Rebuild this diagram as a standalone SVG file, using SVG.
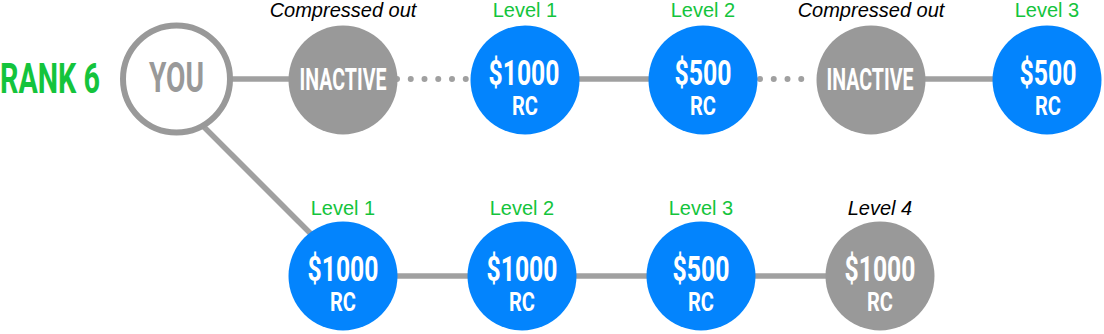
<svg xmlns="http://www.w3.org/2000/svg" width="1104" height="334" viewBox="0 0 1104 334">
<style>
.lbl{font-family:"Liberation Sans",Arial,sans-serif;font-size:20px;text-anchor:middle}
.g{fill:#14c43c}
.k{fill:#000;font-style:italic}
.big{font-family:Roboto,"Liberation Sans",sans-serif;font-weight:bold;fill:#fff;text-anchor:middle}
.blue{fill:#0384fd}
.grey{fill:#999}
.ln{stroke:#a0a0a0;stroke-width:5.5;fill:none}
.dot{stroke:#a0a0a0;stroke-width:6;stroke-linecap:round;stroke-dasharray:0 13.75;fill:none}
</style>
<g id="connectors">
<line class="ln" x1="200" y1="123" x2="320" y2="243"/>
<line class="ln" x1="176" y1="79" x2="343" y2="79"/>
<line class="ln" x1="525" y1="79" x2="703" y2="79"/>
<line class="ln" x1="871" y1="79" x2="1047" y2="79"/>
<line class="dot" x1="397" y1="79" x2="466" y2="79"/>
<line class="dot" x1="760" y1="79" x2="815" y2="79"/>
<line class="ln" x1="343" y1="276" x2="880" y2="276"/>
</g>
<g id="rank"><text x="0" y="93" textLength="100" lengthAdjust="spacingAndGlyphs" style="font-family:Roboto,'Liberation Sans',sans-serif;font-weight:bold;font-size:42px;fill:#14c43c">RANK 6</text></g>
<g id="you">
<circle cx="176.5" cy="79" r="53.5" fill="#fff" stroke="#999" stroke-width="6"/>
<text class="big" x="176.5" y="92" font-size="42" textLength="55" lengthAdjust="spacingAndGlyphs" style="fill:#999">YOU</text>
</g>
<g id="inactive1">
<text class="lbl k" x="343" y="17">Compressed out</text>
<circle class="grey" cx="343" cy="80" r="54.5"/>
<text class="big" x="343" y="89.5" font-size="31" textLength="87" lengthAdjust="spacingAndGlyphs">INACTIVE</text>
</g>
<g id="top-l1">
<text class="lbl g" x="525" y="17">Level 1</text>
<circle class="blue" cx="525" cy="80" r="54.5"/>
<text class="big" x="524" y="85" font-size="35" textLength="71" lengthAdjust="spacingAndGlyphs">$1000</text>
<text class="big" x="525" y="115" font-size="25" textLength="26" lengthAdjust="spacingAndGlyphs">RC</text>
</g>
<g id="top-l2">
<text class="lbl g" x="703" y="17">Level 2</text>
<circle class="blue" cx="703" cy="80" r="54.5"/>
<text class="big" x="703" y="85" font-size="35" textLength="57" lengthAdjust="spacingAndGlyphs">$500</text>
<text class="big" x="703" y="115" font-size="25" textLength="26" lengthAdjust="spacingAndGlyphs">RC</text>
</g>
<g id="inactive2">
<text class="lbl k" x="871" y="17">Compressed out</text>
<circle class="grey" cx="871" cy="80" r="54.5"/>
<text class="big" x="870" y="89.5" font-size="31" textLength="87" lengthAdjust="spacingAndGlyphs">INACTIVE</text>
</g>
<g id="top-l3">
<text class="lbl g" x="1047" y="17">Level 3</text>
<circle class="blue" cx="1047" cy="80" r="54.5"/>
<text class="big" x="1048" y="85" font-size="35" textLength="57" lengthAdjust="spacingAndGlyphs">$500</text>
<text class="big" x="1048" y="115" font-size="25" textLength="26" lengthAdjust="spacingAndGlyphs">RC</text>
</g>
<g id="bot-l1">
<text class="lbl g" x="343" y="215">Level 1</text>
<circle class="blue" cx="343" cy="276" r="54.5"/>
<text class="big" x="343" y="281" font-size="35" textLength="71" lengthAdjust="spacingAndGlyphs">$1000</text>
<text class="big" x="343" y="311" font-size="25" textLength="26" lengthAdjust="spacingAndGlyphs">RC</text>
</g>
<g id="bot-l2">
<text class="lbl g" x="522" y="215">Level 2</text>
<circle class="blue" cx="522" cy="276" r="54.5"/>
<text class="big" x="522" y="281" font-size="35" textLength="71" lengthAdjust="spacingAndGlyphs">$1000</text>
<text class="big" x="522" y="311" font-size="25" textLength="26" lengthAdjust="spacingAndGlyphs">RC</text>
</g>
<g id="bot-l3">
<text class="lbl g" x="701" y="215">Level 3</text>
<circle class="blue" cx="701" cy="276" r="54.5"/>
<text class="big" x="701" y="281" font-size="35" textLength="57" lengthAdjust="spacingAndGlyphs">$500</text>
<text class="big" x="701" y="311" font-size="25" textLength="26" lengthAdjust="spacingAndGlyphs">RC</text>
</g>
<g id="bot-l4">
<text class="lbl k" x="880" y="215">Level 4</text>
<circle class="grey" cx="880" cy="276" r="54.5"/>
<text class="big" x="880" y="281" font-size="35" textLength="71" lengthAdjust="spacingAndGlyphs">$1000</text>
<text class="big" x="880" y="311" font-size="25" textLength="26" lengthAdjust="spacingAndGlyphs">RC</text>
</g>
</svg>
